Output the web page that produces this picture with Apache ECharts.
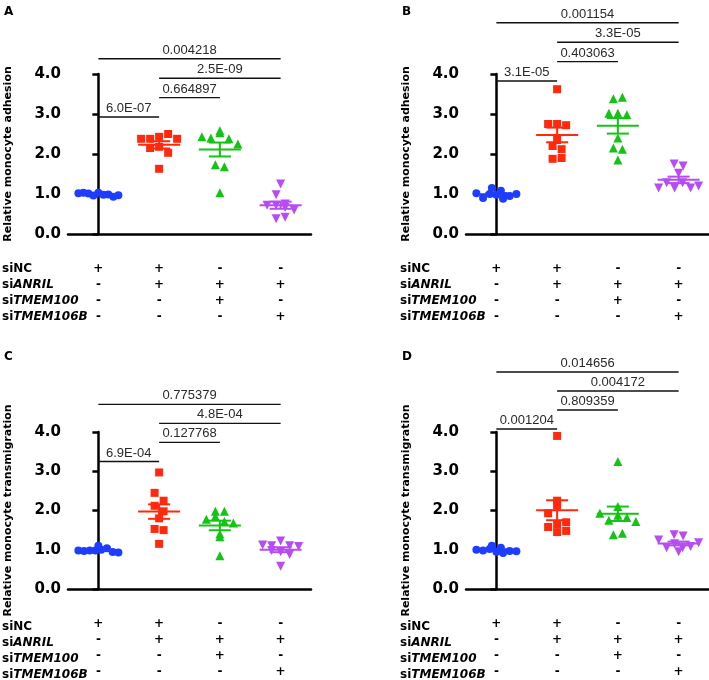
<!DOCTYPE html>
<html><head><meta charset="utf-8">
<script src="https://cdn.jsdelivr.net/npm/echarts@6/dist/echarts.min.js"></script>
<style>html,body{margin:0;padding:0;background:#fff}#c{width:709px;height:680px}</style>
</head><body><div id="c"></div>
<script>
// ---------- data ----------
const groups = ['siNC', 'siANRIL', 'siTMEM100', 'siTMEM106B'];
const rowNames = [['si', 'NC', false], ['si', 'ANRIL', true], ['si', 'TMEM100', true], ['si', 'TMEM106B', true]];
// signs per column (group), rows: siNC, siANRIL, siTMEM100, siTMEM106B
const signs = [
  ['+', '-', '-', '-'],
  ['+', '+', '-', '-'],
  ['-', '+', '+', '-'],
  ['-', '+', '-', '+']
];
const comparisons = [[0, 1], [1, 2], [1, 3], [0, 3]];

// Panel A: adhesion
const aNC = [1.02, 1.03, 1.01, 0.96, 1.03, 0.98, 0.99, 0.93, 0.97];
const aANRIL = [2.38, 2.38, 2.43, 2.5, 2.38, 2.15, 2.18, 2.03, 1.63];
const aTMEM100 = [2.43, 2.4, 2.53, 2.58, 2.38, 2.25, 1.73, 1.68, 1.03];
const aTMEM106B = [1.25, 0.98, 0.72, 0.75, 0.72, 0.66, 0.60, 0.38, 0.42];
const pA = ['6.0E-07', '0.664897', '2.5E-09', '0.004218'];

// Panel B: adhesion
const bNC = [1.02, 0.9, 1.0, 1.15, 0.98, 1.08, 0.88, 0.95, 1.0];
const bANRIL = [3.62, 2.75, 2.75, 2.72, 2.35, 2.2, 2.12, 1.88, 1.9];
const bTMEM100 = [3.38, 3.42, 3.02, 3.02, 2.98, 2.4, 2.15, 2.12, 1.85];
const bTMEM106B = [1.75, 1.7, 1.52, 1.15, 1.28, 1.15, 1.28, 1.15, 1.2];
const pB = ['3.1E-05', '0.403063', '3.3E-05', '0.001154'];

// Panel C: transmigration
const cNC = [0.98, 0.97, 0.98, 0.98, 1.0, 1.04, 0.94, 1.1, 0.93];
const cANRIL = [2.97, 2.45, 2.25, 2.12, 1.98, 1.8, 1.53, 1.5, 1.15];
const cTMEM100 = [1.98, 1.98, 1.78, 1.85, 1.72, 1.68, 1.33, 1.4, 0.85];
const cTMEM106B = [1.12, 1.1, 1.22, 1.1, 1.08, 0.98, 0.95, 0.88, 0.58];
const pC = ['6.9E-04', '0.127768', '4.8E-04', '0.775379'];

// Panel D: transmigration
const dNC = [1.1, 1.05, 1.0, 0.98, 1.02, 0.95, 0.92, 0.97, 0.96];
const dANRIL = [3.9, 2.25, 2.12, 1.93, 1.65, 1.58, 1.7, 1.45, 1.48];
const dTMEM100 = [3.25, 2.1, 1.93, 1.75, 1.88, 1.82, 1.72, 1.38, 1.42];
const dTMEM106B = [1.38, 1.25, 1.35, 1.05, 1.15, 1.05, 1.08, 1.18, 0.95];
const pD = ['0.001204', '0.809359', '0.004172', '0.014656'];

// lowest significance-bar level (data units) per panel
const sigBase = [2.925, 3.825, 3.25, 4.075];
const sigStep = 0.485;

// ---------- layout / style ----------
const colors = ['#1f3dff', '#ff2a0d', '#14c414', '#b64cf2'];
const symbols = ['circle', 'rect', 'triangle', 'triangle'];
const symSizes = [8, 8, 9, 9];
const symRot = [0, 0, 0, 180];
const BOLD = 'DejaVu Sans';

const panels = [
  {letter: 'A', left: 68, top: 74, letterTop: 6, name: 'Relative monocyte adhesion', data: [aNC, aANRIL, aTMEM100, aTMEM106B], p: pA},
  {letter: 'B', left: 466, top: 74, letterTop: 6, name: 'Relative monocyte adhesion', data: [bNC, bANRIL, bTMEM100, bTMEM106B], p: pB},
  {letter: 'C', left: 68, top: 432, letterTop: 351, name: 'Relative monocyte transmigration', data: [cNC, cANRIL, cTMEM100, cTMEM106B], p: pC},
  {letter: 'D', left: 466, top: 432, letterTop: 351, name: 'Relative monocyte transmigration', data: [dNC, dANRIL, dTMEM100, dTMEM106B], p: pD}
];
const GW = 243, GH = 160;

// row-binned dot layout (GraphPad style): points in the same y-bin are spread side by side
function swarm(vals, xpx, ypx, binH, spacing, maxHalf) {
  const bins = {};
  vals.forEach((v, i) => {
    const b = Math.round(v * ypx / binH);
    (bins[b] = bins[b] || []).push(i);
  });
  const off = new Array(vals.length).fill(0);
  Object.values(bins).forEach(ids => {
    const n = ids.length;
    let sp = spacing;
    if ((n - 1) / 2 * sp > maxHalf) sp = maxHalf * 2 / (n - 1);
    ids.forEach((id, j) => { off[id] = (j - (n - 1) / 2) * sp / xpx; });
  });
  return off;
}

const grid = [], xAxis = [], yAxis = [], series = [], graphic = [];

panels.forEach((P, pi) => {
  grid.push({left: P.left, top: P.top, width: GW, height: GH});
  xAxis.push({
    type: 'category', gridIndex: pi, data: groups,
    axisLine: {lineStyle: {color: '#000', width: 2.5}},
    axisTick: {alignWithLabel: true, length: 5, lineStyle: {color: '#000', width: 2}},
    axisLabel: {
      interval: 0, margin: 27, color: '#000', fontFamily: BOLD, fontWeight: 'bold', fontSize: 12, lineHeight: 16,
      formatter: (v, i) => signs[i].join('\n')
    },
    splitLine: {show: false}
  });
  xAxis.push({type: 'value', gridIndex: pi, min: -0.5, max: 3.5, show: false});
  yAxis.push({
    type: 'value', gridIndex: pi, min: 0, max: 4, interval: 1,
    name: P.name, nameLocation: 'middle', nameGap: 54, nameRotate: 90,
    nameTextStyle: {fontFamily: BOLD, fontWeight: 'bold', fontSize: 11, color: '#000'},
    axisLine: {show: true, lineStyle: {color: '#000', width: 2.5}},
    axisTick: {show: true, length: 6, lineStyle: {color: '#000', width: 2.5}},
    axisLabel: {margin: 7, color: '#000', fontFamily: BOLD, fontWeight: 'bold', fontSize: 15, formatter: v => v.toFixed(1)},
    splitLine: {show: false}
  });
  const xpx = GW / 4, ypx = GH / 4;
  P.data.forEach((vals, gi) => {
    const offs = swarm(vals, xpx, ypx, 12, 9, 20);
    series.push({
      type: 'scatter', xAxisIndex: 2 * pi + 1, yAxisIndex: pi,
      symbol: symbols[gi], symbolSize: symSizes[gi], symbolRotate: symRot[gi],
      itemStyle: {color: colors[gi], opacity: 1},
      data: vals.map((v, i) => [gi + offs[i], v]),
      z: 2, silent: true
    });
  });
  // mean +- SEM
  const stats = P.data.map((vals, gi) => {
    const n = vals.length;
    const m = vals.reduce((a, b) => a + b, 0) / n;
    const sd = Math.sqrt(vals.reduce((a, b) => a + (b - m) ** 2, 0) / (n - 1));
    return [gi, m, sd / Math.sqrt(n)];
  });
  series.push({
    type: 'custom', xAxisIndex: 2 * pi + 1, yAxisIndex: pi, clip: false, z: 5, silent: true,
    data: stats,
    renderItem: (params, api) => {
      const gi = api.value(0), m = api.value(1), se = api.value(2);
      const c = api.coord([gi, m]);
      const t = api.coord([gi, m + se]);
      const b = api.coord([gi, m - se]);
      const st = {stroke: colors[gi], lineWidth: 2};
      return {type: 'group', children: [
        {type: 'line', shape: {x1: c[0] - 21, y1: c[1], x2: c[0] + 21, y2: c[1]}, style: st},
        {type: 'line', shape: {x1: c[0], y1: t[1], x2: c[0], y2: b[1]}, style: st},
        {type: 'line', shape: {x1: c[0] - 11, y1: t[1], x2: c[0] + 11, y2: t[1]}, style: st},
        {type: 'line', shape: {x1: c[0] - 11, y1: b[1], x2: c[0] + 11, y2: b[1]}, style: st}
      ]};
    }
  });
  // significance bars
  series.push({
    type: 'custom', xAxisIndex: 2 * pi + 1, yAxisIndex: pi, clip: false, z: 5, silent: true,
    data: comparisons.map((c, k) => [c[0], c[1], sigBase[pi] + k * sigStep]),
    renderItem: (params, api) => {
      const a = api.coord([api.value(0), api.value(2)]);
      const b = api.coord([api.value(1), api.value(2)]);
      return {type: 'group', children: [
        {type: 'line', shape: {x1: a[0], y1: a[1], x2: b[0], y2: b[1]}, style: {stroke: '#111', lineWidth: 1.4}},
        {type: 'text', style: {
          text: P.p[params.dataIndex], x: (a[0] + b[0]) / 2, y: a[1] - 2,
          textAlign: 'center', textVerticalAlign: 'bottom',
          font: '13px "Liberation Sans", Arial, sans-serif', fill: '#2a2a2a'
        }}
      ]};
    }
  });
  // panel letter
  graphic.push({
    type: 'text', left: P.left - 64, top: P.letterTop,
    style: {text: P.letter, font: 'bold 12px "DejaVu Sans"', fill: '#000'}
  });
  // row names
  rowNames.forEach((r, ri) => {
    graphic.push({
      type: 'text', x: P.left - 66, y: P.top + GH + 35 + ri * 16,
      style: {
        text: '{a|' + r[0] + '}{' + (r[2] ? 'b' : 'a') + '|' + r[1] + '}',
        textVerticalAlign: 'middle',
        rich: {
          a: {fontFamily: BOLD, fontWeight: 'bold', fontSize: 12, fill: '#000', color: '#000'},
          b: {fontFamily: BOLD, fontWeight: 'bold', fontStyle: 'italic', fontSize: 12, fill: '#000', color: '#000'}
        }
      }
    });
  });
});

const chart = echarts.init(document.getElementById('c'), null, {renderer: 'canvas'});
chart.setOption({animation: false, backgroundColor: '#fff', grid, xAxis, yAxis, series, graphic});
</script>
</body></html>
